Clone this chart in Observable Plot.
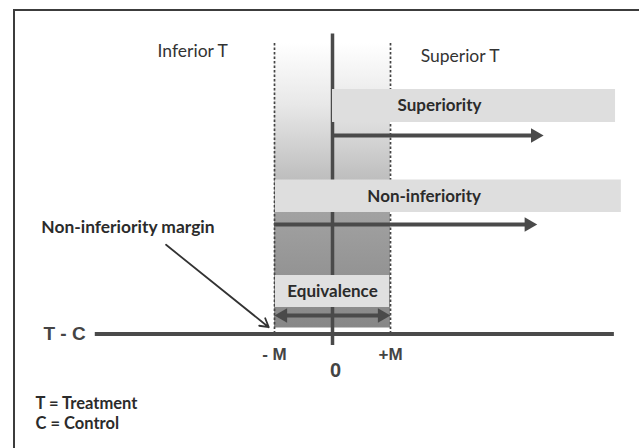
<!DOCTYPE html>
<html><head><meta charset="utf-8">
<script src="https://cdn.jsdelivr.net/npm/d3@7"></script>
<script src="https://cdn.jsdelivr.net/npm/@observablehq/plot@0.6"></script>
<style>
body{margin:0;background:#fff;}
#wrap{position:relative;width:639px;height:448px;overflow:hidden;}
#frame{position:absolute;left:12.5px;top:9.3px;width:700px;height:500px;border-top:2px solid #3c3c3c;border-left:2px solid #3c3c3c;pointer-events:none;}
</style></head><body><div id="wrap"><div id="chart"></div><div id="frame"></div></div>
<script>
// Conceptual axis: T - C difference, with margins -M = -1, 0, +M = 1
const axisExtent = [-4.09, 4.86];
const zeroLineExtent = [-1.15, 30];
const marginLineExtent = [0, 29.1];
const tickLabels = ["- M", "0", "+M"];
const tickValues = [-1, 0, 1];

// Test regions (bars with labels) and their arrows
const tests = ["Superiority", "Non-inferiority", "Equivalence"];
const barStart = [0, -1, -1];
const barEnd = [4.88, 4.98, 1];
const barLow = [21.15, 12.15, 2.65];
const barHigh = [24.45, 15.4, 5.85];
const labelX = [1.845, 1.58, 0];
const arrowStart = [0, -1, -1];
const arrowEnd = [3.64, 3.53, 1];
const arrowLevel = [19.85, 10.95, 1.85];
const doubleHeaded = [false, false, true];

// Shaded margin band segments
const bandLow = [15.3, 0.6];
const bandHigh = [29.1, 15.3];
const bandShade = ["url(#bandTop)", "url(#bandBottom)"];

// Region labels
const regionLabels = ["Inferior T", "Superior T"];
const regionX = [-2.41, 2.2];
const regionY = [28.3, 27.8];

// Annotation
const marginNote = "Non-inferiority margin";
const marginNotePos = {x: -5.02, y: 10.65};
const marginArrow = {x1: -2.87, y1: 8.92, x2: -1.1, y2: 0.68};

const axisName = "T - C";
const axisNameX = -4.62;
const keyLines = ["T = Treatment", "C = Control"];
const keyY = [-7.0, -8.98];
const keyX = -5.12;

const bars = tests.map((t, i) => ({t, x1: barStart[i], x2: barEnd[i], y1: barLow[i], y2: barHigh[i], lx: labelX[i], ly: (barLow[i] + barHigh[i]) / 2}));
const arrows = tests.map((t, i) => ({t, x1: arrowStart[i], x2: arrowEnd[i], y: arrowLevel[i], dbl: doubleHeaded[i]}));
const band = bandLow.map((v, i) => ({y1: v, y2: bandHigh[i], fill: bandShade[i]}));
const ticks = tickValues.map((x, i) => ({x, label: tickLabels[i]}));
const regions = regionLabels.map((l, i) => ({l, x: regionX[i], y: regionY[i]}));
const keys = keyLines.map((l, i) => ({l, y: keyY[i]}));

const humanist = "Lato, 'Open Sans', sans-serif";
const boldSans = "'Liberation Sans', Arial, sans-serif";
const lineColor = "#4a4a4a";

const defs = () => {
  const d = d3.create("svg:defs");
  const g1 = d.append("linearGradient").attr("id", "bandTop").attr("x1", 0).attr("y1", 0).attr("x2", 0).attr("y2", 1);
  g1.append("stop").attr("offset", 0).attr("stop-color", "#ffffff");
  g1.append("stop").attr("offset", 0.45).attr("stop-color", "#e8e8e8");
  g1.append("stop").attr("offset", 1).attr("stop-color", "#bdbdbd");
  const g2 = d.append("linearGradient").attr("id", "bandBottom").attr("x1", 0).attr("y1", 0).attr("x2", 0).attr("y2", 1);
  g2.append("stop").attr("offset", 0).attr("stop-color", "#a9a9a9");
  g2.append("stop").attr("offset", 1).attr("stop-color", "#878787");
  return d.node();
};

const single = arrows.filter(a => !a.dbl);
const dbl = arrows.filter(a => a.dbl);

const chart = Plot.plot({
  width: 639,
  height: 448,
  margin: 0,
  x: {domain: [-1, 1], range: [274, 390], axis: null},
  y: {domain: [0, 30], range: [333.5, 33.5], axis: null},
  marks: [
    defs,
    Plot.rect(band, {x1: -1, x2: 1, y1: "y1", y2: "y2", fill: "fill"}),
    Plot.ruleX([0], {y1: zeroLineExtent[0], y2: zeroLineExtent[1], stroke: lineColor, strokeWidth: 3.5}),
    Plot.ruleX(tickValues.filter(v => v !== 0), {y1: marginLineExtent[0], y2: marginLineExtent[1], stroke: "#444", strokeWidth: 1.7, strokeDasharray: "2.5,2"}),
    Plot.rect(bars.filter(b => b.x1 === 0), {x1: "x1", x2: "x2", y1: "y1", y2: "y2", fill: "#dedede"}),
    Plot.rect(bars.filter(b => b.x1 !== 0 && b.x2 > 1), {x1: "x1", x2: "x2", y1: "y1", y2: "y2", fill: "#dedede", insetLeft: 1}),
    Plot.rect(bars.filter(b => b.x2 <= 1), {x1: "x1", x2: "x2", y1: "y1", y2: "y2", fill: "#e0e0e0", insetLeft: 1, insetRight: 1}),
    Plot.text(bars, {x: "lx", y: "ly", text: "t", fontFamily: humanist, fontWeight: "bold", fontSize: 17, fill: "#2b2b2b"}),
    Plot.ruleY([0], {x1: axisExtent[0], x2: axisExtent[1], stroke: lineColor, strokeWidth: 4}),
    Plot.ruleY(single, {x1: "x1", x2: "x2", y: "y", stroke: lineColor, strokeWidth: 4, insetRight: 9}),
    Plot.ruleY(dbl, {x1: "x1", x2: "x2", y: "y", stroke: lineColor, strokeWidth: 4, insetLeft: 9, insetRight: 9}),
    Plot.dot(arrows, {x: "x2", y: "y", symbol: "triangle", r: 5.4, rotate: 90, dx: -8.4, fill: lineColor}),
    Plot.dot(dbl, {x: "x1", y: "y", symbol: "triangle", r: 5.4, rotate: -90, dx: 8.4, fill: lineColor}),
    Plot.text(regions, {x: "x", y: "y", text: "l", fontFamily: humanist, fontSize: 17.5, fill: "#333"}),
    Plot.text([marginNote], {x: marginNotePos.x, y: marginNotePos.y, text: d => d, textAnchor: "start", fontFamily: humanist, fontWeight: "bold", fontSize: 17.4, fill: "#2b2b2b"}),
    Plot.arrow([marginArrow], {x1: "x1", y1: "y1", x2: "x2", y2: "y2", stroke: "#333", strokeWidth: 1.8, headLength: 8}),
    Plot.text([axisName], {x: axisNameX, y: 0, text: d => d, fontFamily: boldSans, fontWeight: "bold", fontSize: 19, fill: "#444"}),
    Plot.text(ticks.filter(t => t.x !== 0), {x: "x", y: -2.05, text: "label", fontFamily: boldSans, fontWeight: "bold", fontSize: 17, fill: "#444"}),
    Plot.text(ticks.filter(t => t.x === 0), {x: "x", y: -3.65, text: "label", dx: 3, fontFamily: boldSans, fontWeight: "bold", fontSize: 20, fill: "#444"}),
    Plot.text(keys, {x: keyX, y: "y", text: "l", textAnchor: "start", fontFamily: humanist, fontWeight: "bold", fontSize: 16.5, fill: "#2b2b2b"})
  ]
});
document.getElementById("chart").appendChild(chart);
</script>
</body></html>
